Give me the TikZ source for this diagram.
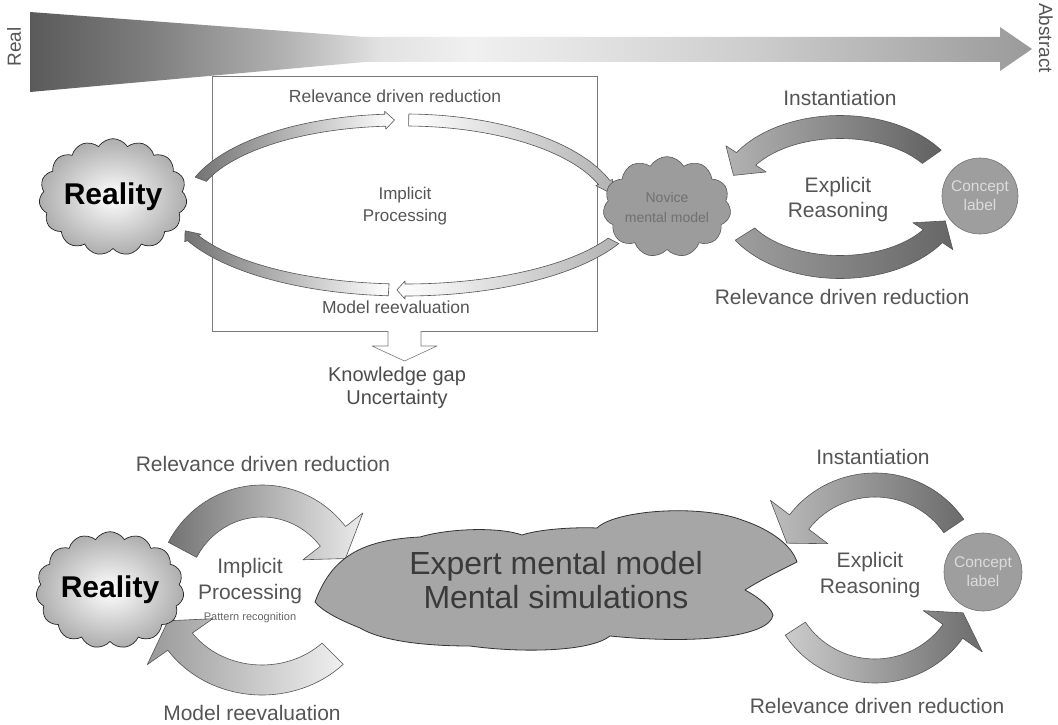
\documentclass[tikz,border=0pt]{standalone}
\usepackage{fontspec}
\setmainfont{Liberation Sans}
\usetikzlibrary{shapes.symbols}

% palette
\definecolor{txt}{HTML}{555555}
\definecolor{txtdark}{HTML}{3A3A3A}
\definecolor{boxline}{HTML}{7A7A7A}
\definecolor{arcline}{HTML}{555555}
\definecolor{cloudfill}{HTML}{A6A6A6}
\definecolor{novfill}{HTML}{9C9C9C}
\definecolor{circfill}{HTML}{9E9E9E}
\definecolor{ra1}{HTML}{5A5A5A}
\definecolor{ra2}{HTML}{7E7E7E}
\definecolor{ra3}{HTML}{B0B0B0}
\definecolor{ra4}{HTML}{E2E2E2}
\definecolor{ra5}{HTML}{F0F0F0}
\definecolor{ra6}{HTML}{E6E6E6}
\definecolor{ra7}{HTML}{CDCDCD}
\definecolor{ra8}{HTML}{9A9A9A}

% grey ramp of the Real -> Abstract axis
\pgfdeclarehorizontalshading{realabs}{100bp}{color(0bp)=(ra1); color(25bp)=(ra1);
  color(31bp)=(ra2); color(37.5bp)=(ra3); color(42.5bp)=(ra4); color(47bp)=(ra5);
  color(51.4bp)=(ra6); color(61bp)=(ra7); color(75bp)=(ra8); color(100bp)=(ra8)}

\newcommand\setfs[2]{\fontsize{#1}{#2}\selectfont}

% curved band arrow along an ellipse
% [style]{(centre)}{rx}{ry}{half band}{half head}{tail angle}{head base angle}{tip angle}
\newcommand\bandarrow[9][]{%
  \begin{scope}[shift={#2}]
    \pgfmathsetmacro\bOx{#3+#5}\pgfmathsetmacro\bOy{#4+#5}%
    \pgfmathsetmacro\bIx{#3-#5}\pgfmathsetmacro\bIy{#4-#5}%
    \pgfmathsetmacro\bHx{#3+#6}\pgfmathsetmacro\bHy{#4+#6}%
    \pgfmathsetmacro\bJx{#3-#6}\pgfmathsetmacro\bJy{#4-#6}%
    \path[#1] (#7:{\bOx} and {\bOy})
      arc[start angle=#7, end angle=#8, x radius=\bOx, y radius=\bOy]
      -- (#8:{\bHx} and {\bHy}) -- (#9:{#3} and {#4}) -- (#8:{\bJx} and {\bJy})
      -- (#8:{\bIx} and {\bIy})
      arc[start angle=#8, end angle=#7, x radius=\bIx, y radius=\bIy] -- cycle;
  \end{scope}}

\tikzset{
  band/.style={draw=arcline, line width=0.6pt, line join=round},
  lbl/.style={text=txt, align=center, inner sep=0pt},
  lblbig/.style={lbl, font=\setfs{21}{26}},
  lblbox/.style={lbl, font=\setfs{17.5}{22}},
  realcloud/.style={cloud, cloud puffs=15, cloud puff arc=115, aspect=1.35,
    draw=black!85, line width=0.7pt, inner sep=0pt, inner color=white, outer color=black!32,
    font=\bfseries\setfs{30}{32}, text=black},
  conceptcirc/.style={circle, draw=black!55, fill=circfill, line width=0.6pt,
    inner sep=0pt, text=white!86!black, align=center, font=\setfs{15.5}{19}}
}

\begin{document}
\begin{tikzpicture}[x=1pt, y=-1pt]
\useasboundingbox (0,0) rectangle (1058,725);
\fill[white] (0,0) rectangle (1058,725);

% ---------- Real -> Abstract axis ----------
\shade[shading=realabs] (30,12) -- (365,37) -- (1000,37) -- (1000,27) -- (1032,49)
  -- (1000,71) -- (1000,62) -- (365,62) -- (30,92) -- cycle;
\node[lbl, rotate=90, font=\setfs{19}{22}] (real) at (14,47) {Real};
\node[lbl, rotate=-90, font=\setfs{19}{22}] (abstract) at (1046,38) {Abstract};

% ---------- novice: implicit processing ----------
\node[draw=boxline, line width=0.6pt, minimum width=385pt, minimum height=255pt, inner sep=0pt]
  (procbox) at (404.5,203.5) {};
\draw[draw=boxline, line width=0.6pt, fill=white, line join=round]
  (388,331) -- (388,346) -- (372,346) -- (404.5,361) -- (437,346) -- (421,346) -- (421,331);

\bandarrow[band, left color=black!55, right color=white]{(400,210)}{212}{90}{6}{9}{200}{266}{268.5}
\bandarrow[band, left color=white, right color=black!30]{(405,215)}{212}{95}{6}{9}{271}{340}{347}
\bandarrow[band, left color=white, right color=black!30]{(405,200)}{234}{90}{6}{9}{27}{90}{92}
\bandarrow[band, left color=black!55, right color=white]{(405,200)}{234}{90}{6}{9}{94}{155}{160}

\node[lblbox] (relbox) at (395,96) {Relevance driven reduction};
\node[lblbox, font=\setfs{17}{22}] (implbox) at (405,206) {Implicit\\Processing};
\node[lblbox] (modelbox) at (396,307) {Model reevaluation};
\node[lbl, font=\setfs{20}{23}, text=black!70] (gap) at (397,388) {Knowledge gap\\Uncertainty};

\node[realcloud, minimum width=146pt, minimum height=110pt] (realtop) at (113,197) {Reality};
\node[cloud, cloud puffs=11, cloud puff arc=120, aspect=1.4, draw=black!65, fill=novfill,
  line width=0.6pt, minimum width=110pt, minimum height=74pt, inner sep=0pt,
  text=black!56, align=center, font=\setfs{14}{20}] (novice) at (667,207) {Novice\\mental model};

% ---------- novice: explicit reasoning ----------
\bandarrow[band, left color=black!30, right color=black!62]{(840,197)}{112}{70}{11.5}{24}{325}{213}{198}
\bandarrow[band, left color=black!38, right color=black!60]{(840,197)}{112}{70}{11.5}{24}{148}{34}{20}
\node[lblbig] (insttop) at (840,98) {Instantiation};
\node[lblbig, font=\setfs{21}{25}] (expltop) at (838,200) {Explicit\\Reasoning};
\node[lblbig] (reltop) at (842,297) {Relevance driven reduction};
\node[conceptcirc, minimum size=76pt] (concepttop) at (980,196) {Concept\\label};

% ---------- expert ----------
\bandarrow[band, left color=black!55, right color=black!8]{(262,593)}{90}{92}{16}{38}{208}{322}{338}
\bandarrow[band, left color=black!40, right color=black!6]{(262,590)}{100}{90}{15}{40}{45}{145}{160}
\node[lblbig] (relbl) at (263,464) {Relevance driven reduction};
\node[lblbig] (implbl) at (250,581) {Implicit\\Processing};
\node[lbl, font=\setfs{11}{13}, text=black!60] (pattern) at (250,618) {Pattern recognition};
\node[lblbig] (modelbl) at (252,713) {Model reevaluation};
\node[realcloud, minimum width=140pt, minimum height=110pt] (realbot) at (110,590) {Reality};

\draw[draw=black!80, line width=0.8pt, fill=cloudfill, line join=round]
  (315,602) .. controls (330,562) and (355,540) .. (420,537)
  .. controls (450,528) and (500,527) .. (522,535)
  .. controls (540,529) and (575,527) .. (597,528)
  .. controls (615,510) and (700,504) .. (742,520)
  .. controls (772,530) and (792,546) .. (797,562)
  .. controls (777,572) and (757,582) .. (745,590)
  .. controls (760,598) and (771,608) .. (773,615)
  .. controls (770,636) and (700,645) .. (610,636)
  .. controls (590,652) and (520,653) .. (470,646)
  .. controls (420,646) and (380,640) .. (360,628)
  .. controls (340,620) and (322,611) .. (315,602) -- cycle;
\node[lbl, text=txtdark, font=\setfs{32}{34}] (expert) at (556,580) {Expert mental model\\Mental simulations};

\bandarrow[band, left color=black!26, right color=black!58]{(875,578)}{95}{93}{12}{36}{326}{217}{202}
\bandarrow[band, left color=black!20, right color=black!58]{(875,578)}{95}{93}{12}{36}{147}{35}{22}
\node[lblbig] (instbr) at (873,457) {Instantiation};
\node[lblbig] (explbr) at (870,575) {Explicit\\Reasoning};
\node[lblbig] (relbr) at (877,706) {Relevance driven reduction};
\node[conceptcirc, minimum size=78pt] (conceptbot) at (983,572) {Concept\\label};
\end{tikzpicture}
\end{document}
